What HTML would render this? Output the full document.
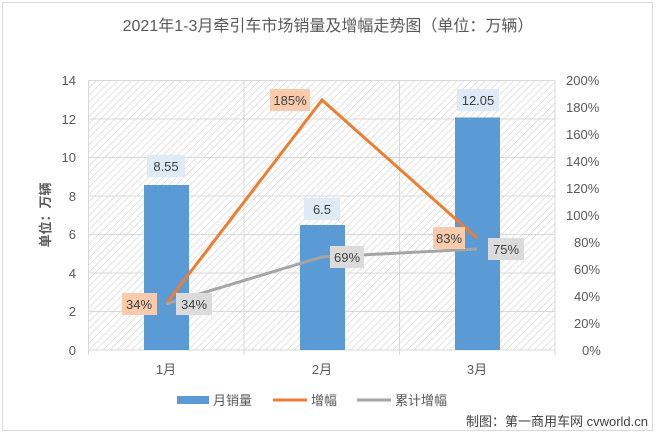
<!DOCTYPE html>
<html><head><meta charset="utf-8"><style>
html,body{margin:0;padding:0;background:#fff;}
svg{display:block;font-family:"Liberation Sans","Noto Sans CJK SC",sans-serif;}
</style></head><body>
<svg width="656" height="435" viewBox="0 0 656 435">
<defs>
<pattern id="h" width="5" height="5" patternUnits="userSpaceOnUse" patternTransform="rotate(45)">
<rect width="5" height="5" fill="#fff"/><line x1="0" y1="0" x2="0" y2="5" stroke="#d0d0d0" stroke-width="1.2"/>
</pattern>
</defs>
<rect x="0" y="0" width="656" height="435" fill="#fff"/>
<rect x="2.5" y="2.5" width="650" height="428" fill="#fff" stroke="#d9d9d9"/>
<text x="328" y="31" font-size="16" fill="#595959" text-anchor="middle">2021年1-3月牵引车市场销量及增幅走势图（单位：万辆）</text>
<rect x="88" y="80" width="467" height="270" fill="url(#h)"/>
<g stroke="#d9d9d9" stroke-width="1">
<line x1="88" y1="80.5" x2="555" y2="80.5"/><line x1="88" y1="119" x2="555" y2="119"/><line x1="88" y1="157.5" x2="555" y2="157.5"/>
<line x1="88" y1="196" x2="555" y2="196"/><line x1="88" y1="234.5" x2="555" y2="234.5"/><line x1="88" y1="273" x2="555" y2="273"/>
<line x1="88" y1="311.5" x2="555" y2="311.5"/><line x1="88" y1="350" x2="555" y2="350"/>
<line x1="88.5" y1="80" x2="88.5" y2="355"/><line x1="244" y1="80" x2="244" y2="355"/><line x1="399.5" y1="80" x2="399.5" y2="355"/><line x1="555" y1="80" x2="555" y2="355"/>
</g>
<rect x="144" y="185" width="45" height="165" fill="#5b9bd5"/>
<rect x="300" y="225" width="45" height="125" fill="#5b9bd5"/>
<rect x="455" y="117.5" width="45" height="232.5" fill="#5b9bd5"/>
<polyline points="166,304 322,100 477,238" fill="none" stroke="#ed7d31" stroke-width="3"/>
<polyline points="166,304 322,257 477,249" fill="none" stroke="#a5a5a5" stroke-width="3"/>
<g font-size="13" fill="#404040" text-anchor="middle">
<rect x="147" y="155" width="38" height="22" fill="#deebf7"/><text x="166" y="171">8.55</text>
<rect x="304" y="198" width="36" height="22" fill="#deebf7"/><text x="322" y="214">6.5</text>
<rect x="457" y="89" width="42" height="22" fill="#deebf7"/><text x="478" y="105">12.05</text>
<rect x="270" y="89" width="40" height="22" fill="#f8cbad"/><text x="290" y="105">185%</text>
<rect x="433" y="227" width="32" height="22" fill="#f8cbad"/><text x="449" y="243">83%</text>
<rect x="122" y="293" width="35" height="22" fill="#f8cbad"/><text x="139" y="309">34%</text>
<rect x="176" y="293" width="36" height="22" fill="#dbdbdb"/><text x="194" y="309">34%</text>
<rect x="330" y="246" width="34" height="22" fill="#dbdbdb"/><text x="347" y="262">69%</text>
<rect x="488" y="238" width="36" height="22" fill="#dbdbdb"/><text x="506" y="254">75%</text>
</g>
<g font-size="13" fill="#595959" text-anchor="end">
<text x="76" y="85">14</text><text x="76" y="124">12</text><text x="76" y="162">10</text><text x="76" y="201">8</text>
<text x="76" y="239">6</text><text x="76" y="278">4</text><text x="76" y="316">2</text><text x="76" y="355">0</text>
</g>
<g font-size="13" fill="#595959" text-anchor="start">
<text x="566" y="85">200%</text><text x="566" y="112">180%</text><text x="566" y="139">160%</text><text x="566" y="166">140%</text>
<text x="566" y="193">120%</text><text x="566" y="220">100%</text><text x="574" y="247">80%</text><text x="574" y="274">60%</text>
<text x="574" y="301">40%</text><text x="574" y="328">20%</text><text x="582" y="355">0%</text>
</g>
<text transform="translate(50,215) rotate(-90)" font-size="13" fill="#595959" font-weight="bold" text-anchor="middle">单位：万辆</text>
<g font-size="13" fill="#595959" text-anchor="middle">
<text x="166" y="374">1月</text><text x="322" y="374">2月</text><text x="477" y="374">3月</text>
</g>
<g font-size="13" fill="#595959">
<rect x="177" y="396" width="32" height="8" fill="#5b9bd5"/><text x="213" y="405">月销量</text>
<line x1="273" y1="400" x2="307" y2="400" stroke="#ed7d31" stroke-width="3"/><text x="311" y="405">增幅</text>
<line x1="357" y1="400" x2="391" y2="400" stroke="#a5a5a5" stroke-width="3"/><text x="395" y="405">累计增幅</text>
</g>
<text x="648" y="426" font-size="13" fill="#404040" text-anchor="end">制图：第一商用车网 cvworld.cn</text>
</svg>
</body></html>
